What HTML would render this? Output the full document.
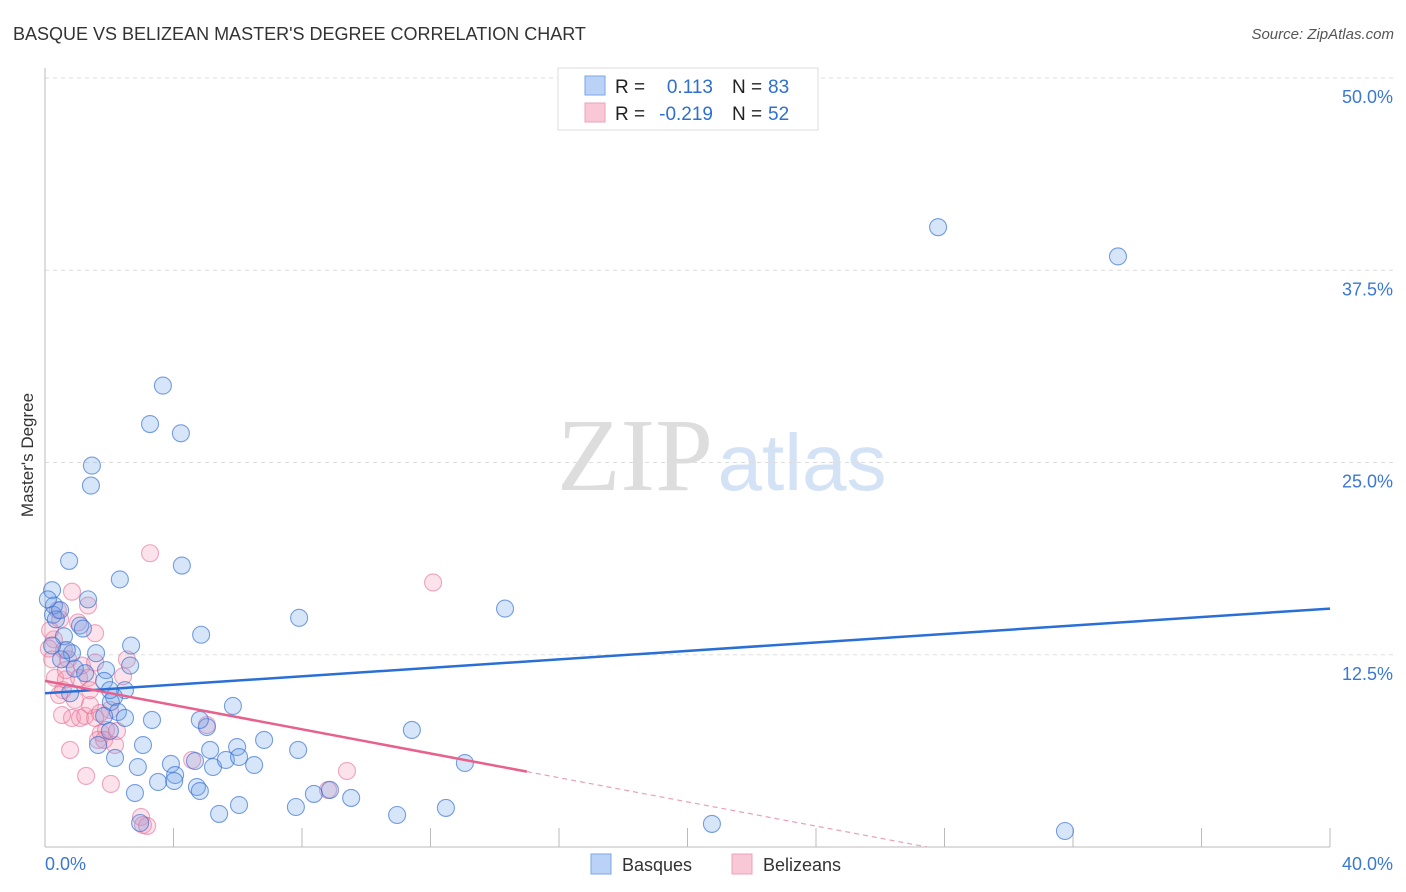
<!DOCTYPE html>
<html><head><meta charset="utf-8">
<style>
body{margin:0;background:#fff;font-family:"Liberation Sans",sans-serif;}
#wrap{position:relative;width:1406px;height:892px;overflow:hidden;}
svg{position:absolute;left:0;top:0;}
</style></head>
<body>
<div id="wrap">
<svg id="chart" width="1406" height="892">
  <text x="13" y="40" font-size="18" fill="#333">BASQUE VS BELIZEAN MASTER'S DEGREE CORRELATION CHART</text>
  <text x="1394" y="39" font-size="15" fill="#555" font-style="italic" text-anchor="end">Source: ZipAtlas.com</text>
  <text transform="translate(33,455) rotate(-90)" font-size="17" fill="#333" text-anchor="middle">Master's Degree</text>
  <g id="watermark">
    <text x="635" y="490" font-size="104" font-family="Liberation Serif,serif" fill="#ddd" text-anchor="middle">ZIP</text>
    <text x="802" y="490" font-size="80" fill="#d3e2f5" text-anchor="middle">atlas</text>
  </g>
  <g id="grid"></g>
  <g id="axes"></g>
  <g id="pts"></g>
  <g id="trend"></g>
  <g>
    <rect x="558" y="68" width="260" height="62" fill="#fff" stroke="#ddd"/>
    <rect x="585" y="76" width="20" height="19" fill="#b9d2f5" stroke="#7aa6e8"/>
    <rect x="585" y="103" width="20" height="19" fill="#f9c8d6" stroke="#eea0b8"/>
    <text x="615" y="93" font-size="19" fill="#222">R =</text>
    <text x="713" y="93" font-size="19" fill="#2f6fd0" text-anchor="end">0.113</text>
    <text x="732" y="93" font-size="19" fill="#222">N =</text>
    <text x="768" y="93" font-size="19" fill="#2f6fd0">83</text>
    <text x="615" y="120" font-size="19" fill="#222">R =</text>
    <text x="713" y="120" font-size="19" fill="#2f6fd0" text-anchor="end">-0.219</text>
    <text x="732" y="120" font-size="19" fill="#222">N =</text>
    <text x="768" y="120" font-size="19" fill="#2f6fd0">52</text>
  </g>
  <g>
    <rect x="591" y="854" width="20" height="20" fill="#b9d2f5" stroke="#7aa6e8"/>
    <text x="622" y="871" font-size="18" fill="#333">Basques</text>
    <rect x="732" y="854" width="20" height="20" fill="#f9c8d6" stroke="#eea0b8"/>
    <text x="763" y="871" font-size="18" fill="#333">Belizeans</text>
  </g>
</svg>
</div>
<script>
const yTicks=[12.5,25,37.5,50];
const yTickLabels=["12.5%","25.0%","37.5%","50.0%"];
const xTickLabels=["0.0%","40.0%"];
const blueX=[27.8,33.4,3.67,3.27,4.23,1.46,1.43,0.75,2.33,4.26,0.22,1.34,7.91,14.32,4.86,2.68,0.28,0.25,0.59,1.09,1.18,0.84,1.59,2.65,1.90,1.84,2.49,2.15,2.05,1.65,2.02,2.27,2.49,3.33,5.85,1.84,2.18,3.05,5.04,5.98,6.82,7.88,11.42,3.92,4.67,5.23,5.63,6.04,6.51,4.05,5.14,2.89,13.07,3.52,4.02,4.73,4.82,2.80,6.04,5.42,7.81,8.37,8.87,9.53,10.96,12.48,20.76,31.75,2.96,0.78,0.34,0.47,0.68,0.09,0.22,0.50,0.93,1.25,2.02,4.82];
const blueY=[40.3,38.4,30.0,27.5,26.9,24.8,23.5,18.6,17.4,18.3,16.7,16.1,14.9,15.5,13.8,13.1,15.7,15.1,13.7,14.4,14.2,12.6,12.6,11.8,11.5,10.8,10.2,9.75,9.43,6.63,7.54,8.78,8.39,8.26,9.17,8.52,5.79,6.63,7.80,6.50,6.96,6.31,7.61,5.40,5.59,5.20,5.66,5.85,5.33,4.68,6.31,5.20,5.46,4.23,4.29,3.90,3.64,3.51,2.73,2.15,2.60,3.45,3.71,3.19,2.08,2.54,1.50,1.04,1.56,10.0,14.8,15.4,12.8,16.1,13.1,12.2,11.6,11.3,10.2,8.26];
const pinkX=[3.27,12.08,0.84,1.34,0.47,1.03,1.56,0.28,0.59,0.12,0.72,1.15,1.56,2.55,0.31,0.65,0.56,1.06,1.34,2.43,0.44,0.84,1.09,1.25,1.56,1.40,1.74,1.90,1.65,1.84,2.18,2.24,2.02,5.04,4.58,0.78,1.28,2.05,9.40,8.81,2.99,3.05,3.18,0.40,0.16,0.22,0.65,0.93,1.40,0.53,1.71];
const pinkY=[19.1,17.2,16.6,15.7,14.8,14.6,13.9,13.5,12.8,12.9,12.2,11.8,12.0,12.2,11.0,10.9,10.2,11.0,11.0,11.1,9.88,8.39,8.39,8.52,8.39,9.23,7.41,7.61,6.96,6.96,6.63,7.54,8.91,7.93,5.66,6.31,4.62,4.10,4.94,3.71,1.95,1.43,1.37,15.4,14.1,12.2,11.5,9.56,10.2,8.58,8.71];
const blueTrend=[10.0,15.5];
const pinkTrend=[10.8,4.9];
const pinkSolidEnd=15.0;

const X0=45,X1=1330,Y0=847,Y50=78;
const sx=v=>X0+(v/40)*(X1-X0);
const sy=v=>Y0-(v/50)*(Y0-Y50);
const NS="http://www.w3.org/2000/svg";
function mk(tag,attrs,parent){const e=document.createElementNS(NS,tag);for(const k in attrs)e.setAttribute(k,attrs[k]);parent.appendChild(e);return e;}
const grid=document.getElementById('grid'),axes=document.getElementById('axes'),pts=document.getElementById('pts'),trend=document.getElementById('trend');
yTicks.forEach((t,i)=>{
  const l=mk('line',{x1:X0,x2:1394,y1:sy(t),y2:sy(t),stroke:'#ddd','stroke-dasharray':'4,4'},grid);
  
  
  const tx=mk('text',{x:1393,y:sy(t)+25,'font-size':18,fill:'#3a78d4','text-anchor':'end'},grid);
  tx.textContent=yTickLabels[i];
  
  
});
mk('line',{x1:X0,x2:X0,y1:68,y2:Y0,stroke:'#bbb'},axes);
mk('line',{x1:X0,x2:X1,y1:Y0,y2:Y0,stroke:'#bbb'},axes);
for(let i=1;i<=10;i++){mk('line',{x1:sx(i*4),x2:sx(i*4),y1:828,y2:Y0,stroke:'#bbb'},axes);}
[[0,'start',X0],[40,'end',1393]].forEach((d,i)=>{
  const t=mk('text',{x:d[2],y:870,'font-size':18,fill:'#3a78d4','text-anchor':d[1]},axes);
  t.textContent=xTickLabels[i];
  
  
});
function dots(xs,ys,fill,stroke,name){
  xs.forEach((x,i)=>{
    const c=mk('circle',{cx:sx(x),cy:sy(ys[i]),r:8.5,fill:fill,stroke:stroke,'stroke-width':1.1},pts);
    
    
  });
}
dots(pinkX,pinkY,'rgba(244,150,178,0.28)','rgba(230,110,150,0.6)','belizean-point');
dots(blueX,blueY,'rgba(110,160,235,0.28)','rgba(50,110,210,0.65)','basque-point');
const bl=mk('line',{x1:sx(0),y1:sy(blueTrend[0]),x2:sx(40),y2:sy(blueTrend[1]),stroke:'#2a6fd6','stroke-width':2.5},trend);


const slope=(pinkTrend[1]-pinkTrend[0])/pinkSolidEnd;
const pl=mk('line',{x1:sx(0),y1:sy(pinkTrend[0]),x2:sx(pinkSolidEnd),y2:sy(pinkTrend[1]),stroke:'#e8608c','stroke-width':2.5},trend);


const xEnd=-pinkTrend[0]/slope;
const pd=mk('line',{x1:sx(pinkSolidEnd),y1:sy(pinkTrend[1]),x2:sx(xEnd),y2:sy(0),stroke:'#e8a0b8','stroke-width':1.2,'stroke-dasharray':'5,4'},trend);


</script>
</body></html>
